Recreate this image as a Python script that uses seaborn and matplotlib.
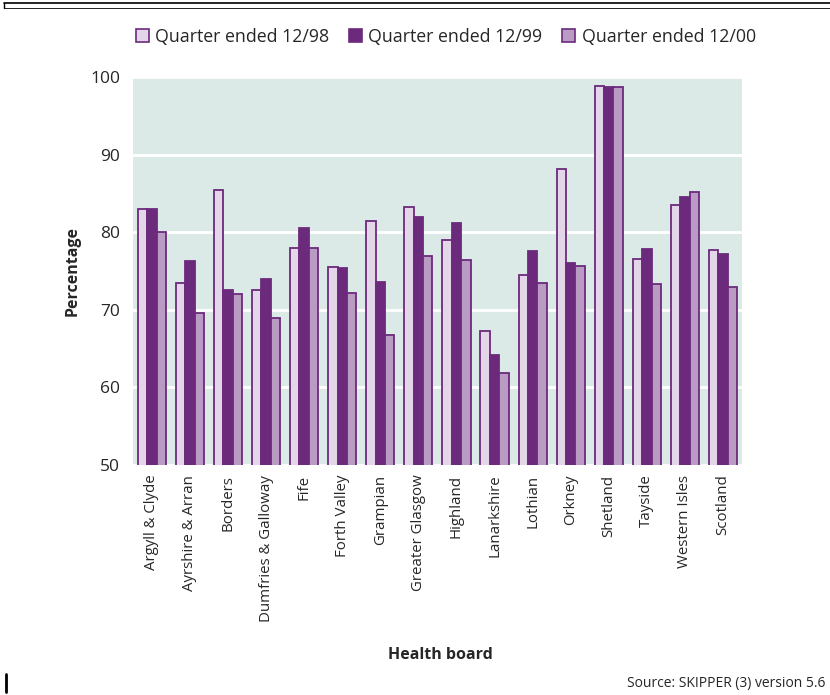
import matplotlib
matplotlib.use("Agg")
import matplotlib.pyplot as plt
import seaborn as sns
import pandas as pd
from matplotlib.lines import Line2D
from matplotlib.patches import Patch

boards = ["Argyll & Clyde", "Ayrshire & Arran", "Borders", "Dumfries & Galloway", "Fife",
          "Forth Valley", "Grampian", "Greater Glasgow", "Highland", "Lanarkshire",
          "Lothian", "Orkney", "Shetland", "Tayside", "Western Isles", "Scotland"]
q98 = [83.0, 73.5, 85.5, 72.5, 78.0, 75.5, 81.5, 83.3, 79.0, 67.3, 74.5, 88.1, 98.8, 76.6, 83.5, 77.7]
q99 = [83.0, 76.3, 72.5, 74.0, 80.5, 75.4, 73.6, 82.0, 81.2, 64.2, 77.6, 76.0, 98.7, 77.8, 84.5, 77.2]
q00 = [80.0, 69.6, 72.0, 69.0, 78.0, 72.2, 66.7, 77.0, 76.4, 61.9, 73.4, 75.7, 98.7, 73.3, 85.2, 72.9]
series = ["Quarter ended 12/98", "Quarter ended 12/99", "Quarter ended 12/00"]

rows = []
for name, vals in zip(series, [q98, q99, q00]):
    for b, v in zip(boards, vals):
        rows.append({"board": b, "series": name, "value": v})
df = pd.DataFrame(rows)

sns.set_theme(style="white")
plt.rcParams["font.family"] = ["Open Sans", "DejaVu Sans"]

fills = ["#e4d6e9", "#6c2a7c", "#b99bc4"]
edge = "#6c2a7c"

fig = plt.figure(figsize=(8.30, 6.95), dpi=100)
ax = fig.add_axes([0.160, 0.331, 0.734, 0.558])
ax.set_facecolor("#dbeae6")

sns.barplot(data=df, x="board", y="value", hue="series", palette=fills,
            width=0.74, ax=ax, legend=False, saturation=1)
for p in ax.patches:
    p.set_edgecolor(edge)
    p.set_linewidth(1.3)

ax.set_ylim(50, 100)
ax.set_xlim(-0.5, len(boards) - 0.5)
ax.set_yticks([50, 60, 70, 80, 90, 100])
ax.yaxis.grid(True, color="white", linewidth=2)
ax.set_axisbelow(True)
for s in ax.spines.values():
    s.set_visible(False)
ax.tick_params(axis="y", length=0, labelsize=12.5, pad=9)
ax.tick_params(axis="x", length=0, labelsize=10.8, pad=7)
plt.setp(ax.get_xticklabels(), rotation=90)
ax.set_ylabel("Percentage", fontsize=11.5, fontweight="bold", labelpad=7)
ax.set_xlabel("")

fig.text(0.53, 0.057, "Health board", ha="center", va="center", fontsize=11.5, fontweight="bold")
fig.text(0.995, 0.016, "Source: SKIPPER (3) version 5.6", ha="right", va="center", fontsize=10)

handles = [Patch(facecolor=c, edgecolor=edge, linewidth=1.2) for c in fills]
fig.legend(handles, series, loc="center", bbox_to_anchor=(0.537, 0.947), ncol=3,
           frameon=False, fontsize=12.8, handlelength=0.75, handleheight=0.75,
           handletextpad=0.35, columnspacing=1.1)

fig.add_artist(Line2D([0.005, 1.0], [0.995, 0.995], color="black", linewidth=1.2, transform=fig.transFigure))
fig.add_artist(Line2D([0.005, 1.0], [0.989, 0.989], color="black", linewidth=0.6, transform=fig.transFigure))
fig.add_artist(Line2D([0.005, 0.005], [0.989, 0.995], color="black", linewidth=1.0, transform=fig.transFigure))
fig.add_artist(Line2D([0.007, 0.007], [0.005, 0.03], color="black", linewidth=2, transform=fig.transFigure))

fig.savefig("out.png", dpi=100)
